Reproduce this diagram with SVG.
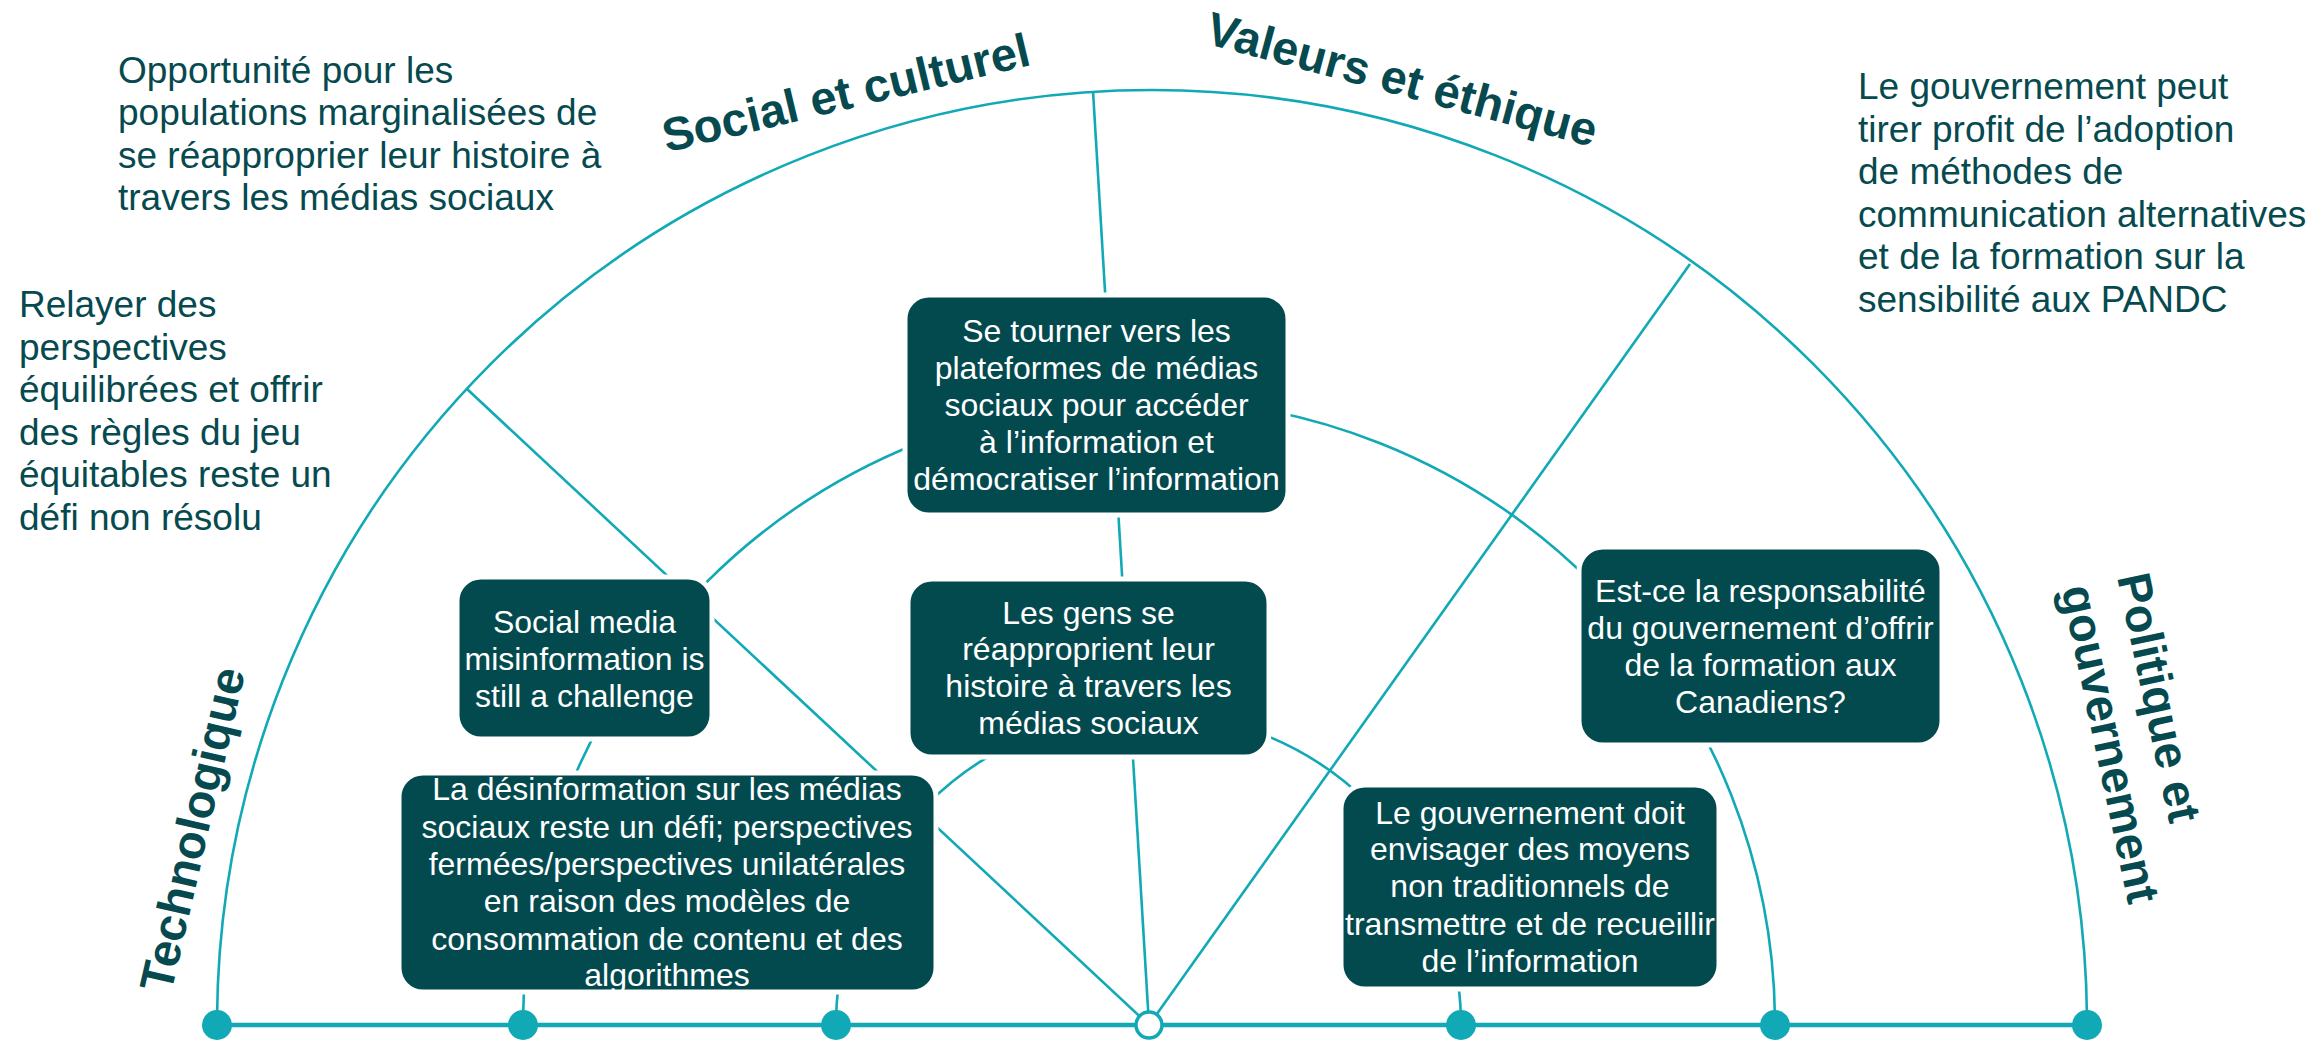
<svg xmlns="http://www.w3.org/2000/svg" width="2312" height="1044" viewBox="0 0 2312 1044">
<style>
.ln{fill:none;stroke:#12A9B6;stroke-width:2.6}
.box{fill:#034A4F;stroke:#ffffff;stroke-width:5}
.bt{font-family:"Liberation Sans",Arial,sans-serif;font-size:32px;fill:#ffffff;text-anchor:middle}
.ft{font-family:"Liberation Sans",Arial,sans-serif;font-size:37px;fill:#064A50}
.ttl{font-family:"Liberation Sans",Arial,sans-serif;font-size:47px;font-weight:bold;fill:#064A50}
.dot{fill:#12A9B6}
</style>
<rect width="2312" height="1044" fill="#ffffff"/>
<g id="connectors">
<path class="ln" d="M 217 1025 A 935 935 0 0 1 2087 1025" stroke-width="3"/>
<path class="ln" d="M 523 1025 A 626 626 0 0 1 1775 1025"/>
<path class="ln" d="M 836 1025 A 312.5 312.5 0 0 1 1461 1025"/>
<line class="ln" x1="1149" y1="1025" x2="467" y2="389"/>
<line class="ln" x1="1149" y1="1025" x2="1093" y2="91"/>
<line class="ln" x1="1149" y1="1025" x2="1690" y2="264"/>
<line x1="217" y1="1025" x2="2087" y2="1025" stroke="#12A9B6" stroke-width="4.5"/>
<circle class="dot" cx="217" cy="1025" r="15"/>
<circle class="dot" cx="523" cy="1025" r="15"/>
<circle class="dot" cx="836" cy="1025" r="15"/>
<circle cx="1149" cy="1025" r="13" fill="#ffffff" stroke="#12A9B6" stroke-width="3.5"/>
<circle class="dot" cx="1461" cy="1025" r="15"/>
<circle class="dot" cx="1775" cy="1025" r="15"/>
<circle class="dot" cx="2087" cy="1025" r="15"/>
</g>
<g id="node-plateformes">
<rect class="box" x="905" y="295" width="383" height="220" rx="24"/>
<text class="bt"><tspan x="1096.5" y="342">Se tourner vers les</tspan><tspan x="1096.5" y="379">plateformes de médias</tspan><tspan x="1096.5" y="416">sociaux pour accéder</tspan><tspan x="1096.5" y="453">à l’information et</tspan><tspan x="1096.5" y="490">démocratiser l’information</tspan></text>
</g>
<g id="node-social-media">
<rect class="box" x="457" y="577" width="255" height="162" rx="24"/>
<text class="bt"><tspan x="584.5" y="632.5">Social media</tspan><tspan x="584.5" y="670">misinformation is</tspan><tspan x="584.5" y="707">still a challenge</tspan></text>
</g>
<g id="node-desinformation">
<rect class="box" x="399" y="773" width="537" height="219" rx="24"/>
<text class="bt"><tspan x="667" y="800">La désinformation sur les médias</tspan><tspan x="667" y="837.5">sociaux reste un défi; perspectives</tspan><tspan x="667" y="875">fermées/perspectives unilatérales</tspan><tspan x="667" y="912">en raison des modèles de</tspan><tspan x="667" y="949.5">consommation de contenu et des</tspan><tspan x="667" y="986">algorithmes</tspan></text>
</g>
<g id="node-gens">
<rect class="box" x="908" y="579" width="361" height="178" rx="24"/>
<text class="bt"><tspan x="1088.5" y="623.5">Les gens se</tspan><tspan x="1088.5" y="660">réapproprient leur</tspan><tspan x="1088.5" y="697">histoire à travers les</tspan><tspan x="1088.5" y="733.5">médias sociaux</tspan></text>
</g>
<g id="node-responsabilite">
<rect class="box" x="1579" y="547" width="363" height="198" rx="24"/>
<text class="bt"><tspan x="1760.5" y="602">Est-ce la responsabilité</tspan><tspan x="1760.5" y="638.5">du gouvernement d’offrir</tspan><tspan x="1760.5" y="676">de la formation aux</tspan><tspan x="1760.5" y="713">Canadiens?</tspan></text>
</g>
<g id="node-gouvernement-doit">
<rect class="box" x="1341" y="785" width="378" height="204" rx="24"/>
<text class="bt"><tspan x="1530" y="823.5">Le gouvernement doit</tspan><tspan x="1530" y="860">envisager des moyens</tspan><tspan x="1530" y="897">non traditionnels de</tspan><tspan x="1530" y="934.5">transmettre et de recueillir</tspan><tspan x="1530" y="972">de l’information</tspan></text>
</g>
<g id="note-opportunite">
<text class="ft"><tspan x="118" y="82.5">Opportunité pour les</tspan><tspan x="118" y="125">populations marginalisées de</tspan><tspan x="118" y="167.5">se réapproprier leur histoire à</tspan><tspan x="118" y="210">travers les médias sociaux</tspan></text>
</g>
<g id="note-relayer">
<text class="ft"><tspan x="19" y="317">Relayer des</tspan><tspan x="19" y="359.5">perspectives</tspan><tspan x="19" y="402">équilibrées et offrir</tspan><tspan x="19" y="444.5">des règles du jeu</tspan><tspan x="19" y="487">équitables reste un</tspan><tspan x="19" y="529.5">défi non résolu</tspan></text>
</g>
<g id="note-gouvernement-peut">
<text class="ft"><tspan x="1858" y="99">Le gouvernement peut</tspan><tspan x="1858" y="141.5">tirer profit de l’adoption</tspan><tspan x="1858" y="184">de méthodes de</tspan><tspan x="1858" y="226.5">communication alternatives</tspan><tspan x="1858" y="269">et de la formation sur la</tspan><tspan x="1858" y="311.5">sensibilité aux PANDC</tspan></text>
</g>
<g id="title-social">
<text class="ttl" text-anchor="middle" transform="translate(849.5,108.5) rotate(-13.5)">Social et culturel</text>
</g>
<g id="title-valeurs">
<text class="ttl" text-anchor="middle" transform="translate(1398,95) rotate(15)">Valeurs et éthique</text>
</g>
<g id="title-technologique">
<text class="ttl" transform="translate(171,994) rotate(-77)">Technologique</text>
</g>
<g id="title-politique">
<text class="ttl" transform="translate(2117,577) rotate(78)"><tspan x="0" y="0">Politique et</tspan><tspan x="0" y="57">gouvernement</tspan></text>
</g>
</svg>
